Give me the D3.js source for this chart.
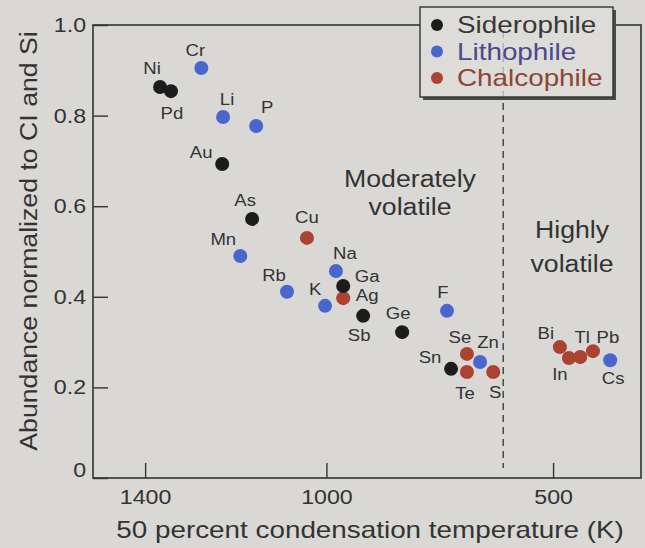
<!DOCTYPE html>
<html>
<head>
<meta charset="utf-8">
<script src="https://cdn.jsdelivr.net/npm/d3@7"></script>
<style>
  body { margin: 0; background: #d9d8d5; }
  text { font-family: "Liberation Sans", Arial, Helvetica, sans-serif; fill: #333; }
</style>
</head>
<body>
<div class="canvas"></div>
<script>
// groups
const groups = ["Siderophile", "Lithophile", "Chalcophile"];

// siderophile elements
const sideroNames = ["Ni", "Pd", "Au", "As", "Ga", "Sb", "Ge", "Sn"];
const sideroTemp = [1367, 1343, 1230, 1164, 963, 919, 833, 725];
const sideroAbund = [0.863, 0.854, 0.693, 0.572, 0.424, 0.358, 0.322, 0.241];

// lithophile elements
const lithoNames = ["Cr", "Li", "P", "Mn", "Rb", "Na", "K", "F", "Zn", "Cs"];
const lithoTemp = [1276, 1228, 1155, 1190, 1087, 979, 1003, 734, 661, 374];
const lithoAbund = [0.905, 0.797, 0.777, 0.49, 0.411, 0.457, 0.38, 0.369, 0.256, 0.26];

// chalcophile elements
const chalcoNames = ["Cu", "Ag", "Se", "Te", "S", "Bi", "In", "Tl", "Pb"];
const chalcoTemp = [1043, 963, 690, 690, 632, 485, 465, 440, 412];
const chalcoAbund = [0.53, 0.397, 0.274, 0.234, 0.234, 0.289, 0.265, 0.267, 0.28];

const xTicks = [1400, 1000, 500];
const yTicks = [0, 0.2, 0.4, 0.6, 0.8, 1.0];
const volatileLimit = 610;

let dims = { width: 645, height: 548 };
let frame = { left: 93, right: 641, top: 25, bottom: 478 };
const SX = 1.16; // the printed type is wider than Arial
const ink = "#333";
const paper = "#d9d8d5";
const color = d3.scaleOrdinal()
    .domain(groups)
    .range(["#1c1c1c", "#4a66cc", "#ab4232"]);
const legendTextColor = { Siderophile: "#383838", Lithophile: "#4a4a8c", Chalcophile: "#8a4636" };

// label placement, dot centre -> label centre
const labelOffset = {
    Ni: [-8, -19], Pd: [1, 22], Cr: [-6, -18], Li: [4, -18], P: [11, -19],
    Au: [-21, -12], As: [-7, -18], Cu: [0, -21], Mn: [-17, -17], Rb: [-13, -16],
    Na: [9, -18], Ga: [24, -10], Ag: [24, -3], K: [-10, -16], Sb: [-4, 20],
    Ge: [-4, -19], F: [-4, -18], Se: [-7, -16], Zn: [8, -20], Sn: [-21, -11],
    Te: [-2, 21], S: [2, 20], Bi: [-14, -14], In: [-9, 16], Tl: [2, -20],
    Pb: [15, -14], Cs: [3, 18]
};

function rows(names, temps, abunds, group) {
    return names.map((n, i) => ({ name: n, temp: temps[i], abund: abunds[i], group: group }));
}
const data = [
    ...rows(lithoNames, lithoTemp, lithoAbund, "Lithophile"),
    ...rows(chalcoNames, chalcoTemp, chalcoAbund, "Chalcophile"),
    ...rows(sideroNames, sideroTemp, sideroAbund, "Siderophile")
];

const svg = d3
    .select(".canvas")
    .append("svg")
    .attr("width", dims.width)
    .attr("height", dims.height);

svg.append("rect")
    .attr("width", dims.width)
    .attr("height", dims.height)
    .attr("fill", paper);

const x = d3.scaleLinear().domain([1515, 306]).range([frame.left, frame.right]);
const y = d3.scaleLinear().domain([0, 1]).range([frame.bottom, frame.top]);

function wideText(g, str, px, py, size, anchor, rot) {
    return g.append("text")
        .attr("transform", `translate(${px},${py})` + (rot ? ` rotate(${rot})` : "") + ` scale(${SX},1)`)
        .attr("text-anchor", anchor || "middle")
        .attr("font-size", size)
        .text(str);
}

// axes, ticks pointing inward
const xAxis = svg.append("g")
    .attr("transform", `translate(0,${frame.bottom})`)
    .call(d3.axisBottom(x).tickValues(xTicks).tickSize(-15).tickPadding(12).tickFormat(d3.format("d")));
const yAxis = svg.append("g")
    .attr("transform", `translate(${frame.left},0)`)
    .call(d3.axisLeft(y).tickValues(yTicks).tickSize(-15).tickPadding(6)
        .tickFormat((d) => (d === 0 ? "0" : d3.format(".1f")(d))));

[xAxis, yAxis].forEach((ax) => {
    ax.select(".domain").remove();
    ax.selectAll("line").attr("stroke", ink).attr("stroke-width", 1.4);
    ax.selectAll("text")
        .attr("font-size", 20)
        .attr("fill", ink)
        .attr("transform", `scale(${SX},1)`);
});
yAxis.selectAll(".tick").filter((d) => d === 0).select("text").attr("y", -8);

// frame
svg.append("rect")
    .attr("x", frame.left)
    .attr("y", frame.top)
    .attr("width", frame.right - frame.left)
    .attr("height", frame.bottom - frame.top)
    .attr("fill", "none")
    .attr("stroke", ink)
    .attr("stroke-width", 1.6);

// boundary between moderately and highly volatile
svg.append("line")
    .attr("x1", x(volatileLimit))
    .attr("x2", x(volatileLimit))
    .attr("y1", frame.top + 6)
    .attr("y2", frame.bottom - 10)
    .attr("stroke", ink)
    .attr("stroke-width", 1.3)
    .attr("stroke-dasharray", "7,5");

// region notes
wideText(svg, "Moderately", 410, 187, 23);
wideText(svg, "volatile", 410, 215, 23);
wideText(svg, "Highly", 572, 238, 23);
wideText(svg, "volatile", 572, 272, 23);

// points
const chart = svg.append("g");
chart.selectAll("circle")
    .data(data)
    .enter()
    .append("circle")
    .attr("cx", (d) => x(d.temp))
    .attr("cy", (d) => y(d.abund))
    .attr("r", 7)
    .attr("fill", (d) => color(d.group));

const labels = svg.append("g");
data.forEach((d) => {
    const off = labelOffset[d.name];
    wideText(labels, d.name, x(d.temp) + off[0], y(d.abund) + off[1], 16)
        .attr("dy", "0.35em");
});

// legend
const legendGroup = svg.append("g").attr("transform", "translate(420,7)");
legendGroup.append("rect")
    .attr("x", 3).attr("y", 3)
    .attr("width", 193).attr("height", 90)
    .attr("fill", "#4a4a4a");
legendGroup.append("rect")
    .attr("width", 193).attr("height", 90)
    .attr("fill", "#dddcd9")
    .attr("stroke", ink)
    .attr("stroke-width", 1.4);
legendGroup.append("line")
    .attr("x1", x(volatileLimit) - 420).attr("x2", x(volatileLimit) - 420)
    .attr("y1", 24).attr("y2", 90)
    .attr("stroke", ink).attr("stroke-opacity", 0.35)
    .attr("stroke-dasharray", "7,5");

const items = legendGroup.selectAll(".item")
    .data(groups)
    .enter()
    .append("g")
    .attr("class", "item")
    .attr("transform", (d, i) => `translate(0,${i * 26.5})`);
items.append("circle")
    .attr("cx", 17).attr("cy", 18)
    .attr("r", 6)
    .attr("fill", (d) => color(d));
items.each(function (d) {
    wideText(d3.select(this), d, 37, 26, 24, "start").style("fill", legendTextColor[d]);
});

// axis titles
wideText(svg, "50 percent condensation temperature (K)", 370, 538, 24);
wideText(svg, "Abundance normalized to CI and Si", 37, 241, 23, "middle", -90);
</script>
</body>
</html>
